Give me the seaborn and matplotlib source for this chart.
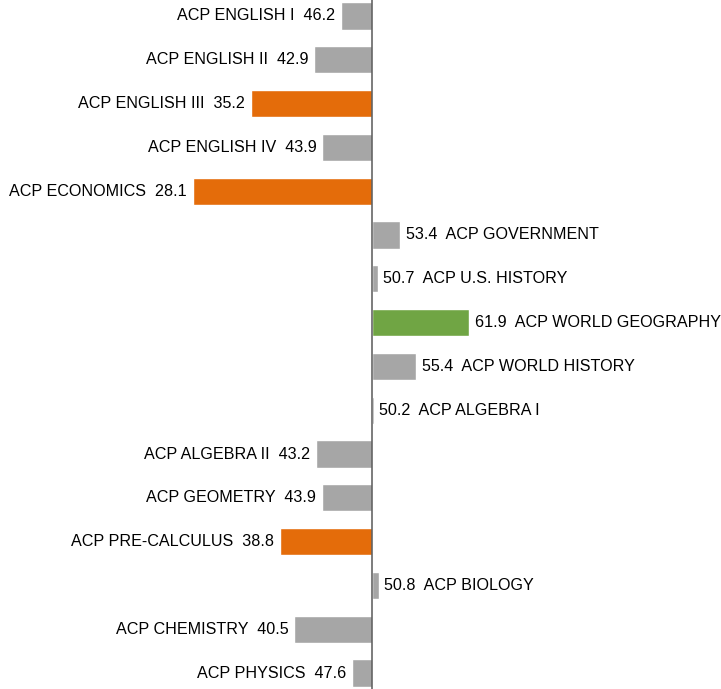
import numpy as np
import pandas as pd
import matplotlib
matplotlib.use('Agg')
import matplotlib.pyplot as plt
import seaborn as sns

courses = ['ACP ENGLISH I', 'ACP ENGLISH II', 'ACP ENGLISH III', 'ACP ENGLISH IV',
           'ACP ECONOMICS', 'ACP GOVERNMENT', 'ACP U.S. HISTORY', 'ACP WORLD GEOGRAPHY',
           'ACP WORLD HISTORY', 'ACP ALGEBRA I', 'ACP ALGEBRA II', 'ACP GEOMETRY',
           'ACP PRE-CALCULUS', 'ACP BIOLOGY', 'ACP CHEMISTRY', 'ACP PHYSICS']
scores = [46.2, 42.9, 35.2, 43.9, 28.1, 53.4, 50.7, 61.9,
          55.4, 50.2, 43.2, 43.9, 38.8, 50.8, 40.5, 47.6]
groups = ['gray', 'gray', 'low', 'gray', 'low', 'gray', 'gray', 'high',
          'gray', 'gray', 'gray', 'gray', 'low', 'gray', 'gray', 'gray']
baseline = 50

group_colors = {'gray': '#A6A6A6', 'low': '#E46C0A', 'high': '#70A544'}

df = pd.DataFrame({'course': courses, 'score': scores, 'group': groups})
df['diff'] = df['score'] - baseline

sns.set_style('white')
plt.rcParams['font.family'] = ['Liberation Sans', 'DejaVu Sans']

fig = plt.figure(figsize=(7.21, 6.89), dpi=100)
ax = fig.add_axes([0, 0, 1, 1])

sns.barplot(data=df, y='course', x='diff', hue='course',
            palette=[group_colors[g] for g in groups], legend=False,
            orient='h', width=0.62, ax=ax, saturation=1)

# shift the axis so the bars start at the baseline of 50
ax.set_xlim(4.6 - baseline, 92.6 - baseline)
ax.set_ylim(15.365, -0.365)
ax.axvline(0, color='#595959', lw=1.1)

for i, (name, val) in enumerate(zip(courses, scores)):
    d = val - baseline
    if d < 0:
        ax.text(d - 0.7, i, f'{name}  {val:.1f}', ha='right', va='center',
                fontsize=11.6, color='black')
    else:
        ax.text(d + 0.7, i, f'{val:.1f}  {name}', ha='left', va='center',
                fontsize=11.6, color='black')

ax.set_axis_off()
fig.savefig('out.png', dpi=100)
